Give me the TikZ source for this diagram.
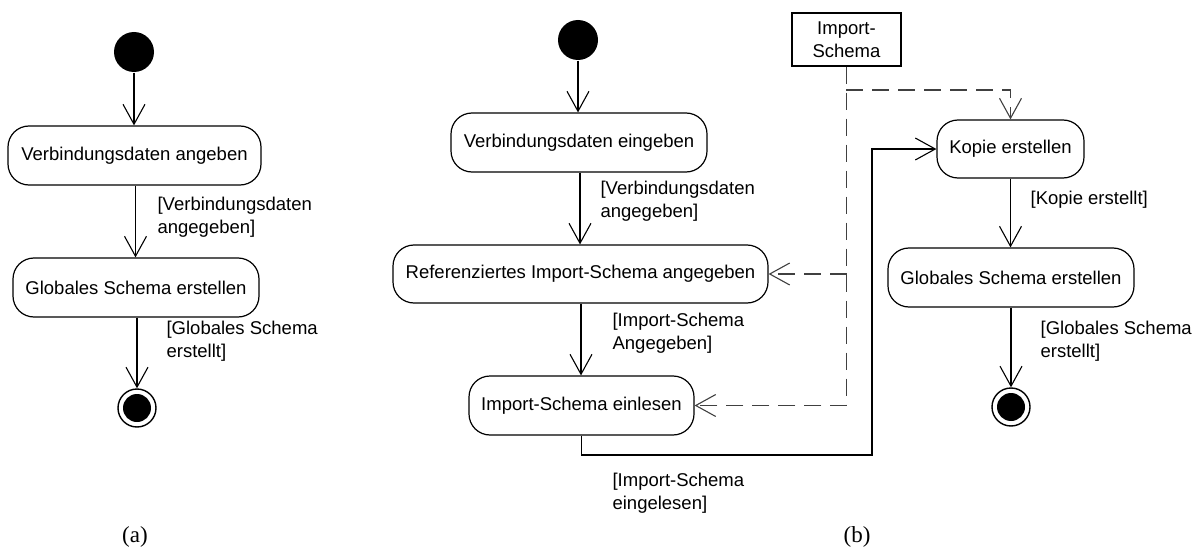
\documentclass[tikz,border=0pt]{standalone}
\usepackage{fontspec}
\setmainfont{Liberation Sans}
\newfontfamily\captionfont{Liberation Serif}
\usetikzlibrary{arrows.meta}
\begin{document}
\begin{tikzpicture}[x=1pt,y=-1pt,
  line width=1.2pt,
  >={Straight Barb[length=20pt,width=22pt,line width=1.1pt]},
  font=\fontsize{18.5}{23}\selectfont,
  action/.style={draw, rounded corners=21pt, inner sep=0pt, minimum height=59pt},
  object/.style={draw, inner sep=0pt, align=center, minimum width=109pt, minimum height=53pt},
  initstate/.style={circle, fill=black, inner sep=0pt, minimum size=40pt},
  endstate/.style={circle, draw, line width=1.4pt, inner sep=0pt, minimum size=38pt,
    path picture={\fill[black] (path picture bounding box.center) circle (14pt);}},
  guard/.style={anchor=west, align=left, inner sep=0pt},
  flow/.style={->},
  objflow/.style={->, draw=black!75, dash pattern=on 17pt off 9pt},
  caption/.style={font=\captionfont\fontsize{23}{27}\selectfont}
]
\useasboundingbox (0,0) rectangle (1203,551);

% ---------- (a) ----------
\node[initstate] (sa) at (134,52) {};
\node[action, minimum width=253pt] (a1) at (134.5,155.5) {Verbindungsdaten angeben};
\node[action, minimum width=246pt] (a2) at (136,287.5) {Globales Schema erstellen};
\node[endstate] (ea) at (137,408) {};

\draw[flow] (sa.south) -- (sa.south |- a1.north);
\draw[flow] ([xshift=1pt]a1.south) -- ([xshift=1pt]a1.south |- a2.north);
\draw[flow] ([xshift=1pt]a2.south) -- (ea.north);

\node[guard] (ga1) at (157,217) {[Verbindungsdaten\\angegeben]};
\node[guard] (ga2) at (166,341) {[Globales Schema\\erstellt]};

\node[caption] (capa) at (135,537) {(a)};

% ---------- (b) ----------
\node[initstate] (sb) at (578,40) {};
\node[action, minimum width=256pt] (b1) at (579,142.5) {Verbindungsdaten eingeben};
\node[action, minimum width=375pt, minimum height=58pt] (b2) at (580.5,274) {Referenziertes Import-Schema angegeben};
\node[action, minimum width=225pt] (b3) at (581.5,405.5) {Import-Schema einlesen};
\node[object] (is) at (846.5,39.5) {Import-\\Schema};
\node[action, minimum width=147pt, minimum height=58pt] (k1) at (1010.5,149) {Kopie erstellen};
\node[action, minimum width=246pt] (k2) at (1011,277.5) {Globales Schema erstellen};
\node[endstate] (eb) at (1011,407) {};

\draw[flow] (sb.south) -- (sb.south |- b1.north);
\draw[flow] ([xshift=1pt]b1.south) -- ([xshift=1pt]b1.south |- b2.north);
\draw[flow] ([xshift=0.5pt]b2.south) -- ([xshift=0.5pt]b2.south |- b3.north);
\coordinate (loopA) at (872,455);
\draw[flow] (b3.south) |- (loopA) |- (k1.west);
\draw[flow] (k1.south) -- (k1.south |- k2.north);
\draw[flow] (k2.south) -- (eb.north);

% object flows from the import schema
\coordinate (isfork) at (846,90);
\draw[objflow] (is.south) -- (is.south |- b3.east) -- (b3.east);
\draw[objflow] (is.south |- b2.east) -- (b2.east);
\draw[objflow] (isfork) -| (k1.north);

\node[guard] (gb1) at (600,201.5) {[Verbindungsdaten\\angegeben]};
\node[guard] (gb2) at (612,333.5) {[Import-Schema\\Angegeben]};
\node[guard] (gb3) at (612,493.5) {[Import-Schema\\eingelesen]};
\node[guard] (gb4) at (1030,200) {[Kopie erstellt]};
\node[guard] (gb5) at (1040,341) {[Globales Schema\\erstellt]};

\node[caption] (capb) at (857,537) {(b)};
\end{tikzpicture}
\end{document}
